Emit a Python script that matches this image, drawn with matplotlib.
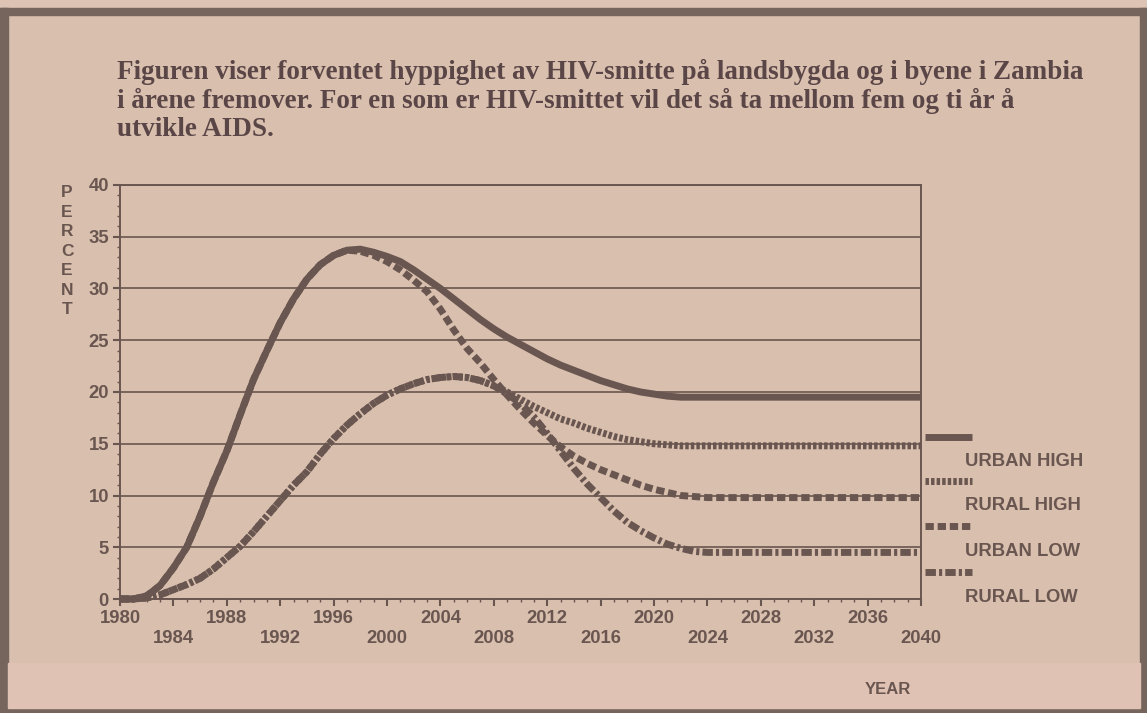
import matplotlib.pyplot as plt
from matplotlib.patches import Rectangle
from matplotlib.lines import Line2D
from matplotlib.ticker import MultipleLocator

# colours of the scanned newspaper page
paper = '#d9bfad'
band = '#dfc2b3'
frame = '#76655d'
ink = '#6a5650'
title_ink = '#5a4547'

# data (percent HIV prevalence, Zambia)
years = list(range(1980, 2025)) + [2040]

urban_high = [0.0, 0.0, 0.3, 1.3, 3.0, 5.0, 8.0, 11.3, 14.3, 17.8,
              21.2, 24.0, 26.7, 29.0, 30.9, 32.3, 33.2, 33.7, 33.8, 33.5,
              33.1, 32.6, 31.8, 30.9, 30.0, 29.0, 28.0, 27.0, 26.1, 25.3,
              24.6, 23.9, 23.2, 22.6, 22.1, 21.6, 21.1, 20.7, 20.3, 20.0,
              19.8, 19.6, 19.5, 19.5, 19.5, 19.5]

urban_low = [0.0, 0.0, 0.3, 1.3, 3.0, 5.0, 8.0, 11.3, 14.3, 17.8,
             21.2, 24.0, 26.7, 29.0, 30.9, 32.3, 33.2, 33.7, 33.6, 33.2,
             32.6, 31.8, 30.8, 29.7, 28.0, 26.0, 24.2, 22.8, 21.2, 19.7,
             18.3, 17.0, 15.8, 14.7, 13.8, 13.1, 12.5, 12.0, 11.5, 11.0,
             10.6, 10.3, 10.0, 9.9, 9.8, 9.8]

rural_high = [0.0, 0.0, 0.1, 0.4, 0.9, 1.4, 2.0, 2.9, 4.0, 5.1,
              6.5, 8.0, 9.5, 11.0, 12.3, 14.0, 15.5, 16.8, 17.9, 18.9,
              19.7, 20.3, 20.8, 21.2, 21.4, 21.5, 21.4, 21.1, 20.6, 20.0,
              19.3, 18.6, 18.0, 17.4, 17.0, 16.5, 16.1, 15.7, 15.4, 15.2,
              15.0, 14.9, 14.8, 14.8, 14.8, 14.8]

rural_low = [0.0, 0.0, 0.1, 0.4, 0.9, 1.4, 2.0, 2.9, 4.0, 5.1,
             6.5, 8.0, 9.5, 11.0, 12.3, 14.0, 15.5, 16.8, 17.9, 18.9,
             19.7, 20.3, 20.8, 21.2, 21.4, 21.5, 21.4, 21.1, 20.6, 19.8,
             18.9, 17.6, 16.0, 14.3, 12.6, 11.1, 9.8, 8.5, 7.4, 6.6,
             5.9, 5.3, 4.9, 4.6, 4.5, 4.5]

series_names = ['URBAN HIGH', 'RURAL HIGH', 'URBAN LOW', 'RURAL LOW']
x_ticks = list(range(1980, 2041, 4))
y_ticks = [0, 5, 10, 15, 20, 25, 30, 35, 40]

title = ('Figuren viser forventet hyppighet av HIV-smitte på landsbygda og i byene i Zambia\n'
         'i årene fremover. For en som er HIV-smittet vil det så ta mellom fem og ti år å\n'
         'utvikle AIDS.')

W, H = 1147, 713
fig = plt.figure(figsize=(W / 100, H / 100), dpi=100)
fig.patch.set_facecolor(paper)


def px_rect(x0, y0, x1, y1, color):
    # rectangle given in pixel coords (origin top-left)
    fig.patches.append(Rectangle((x0 / W, 1 - y1 / H), (x1 - x0) / W, (y1 - y0) / H,
                                 transform=fig.transFigure, color=color, zorder=0))


# page frame and bottom strip
px_rect(0, 0, W, 8, '#dcc3b4')
px_rect(0, 8, W, 15, frame)
px_rect(0, 8, 8, H, frame)
px_rect(1140, 8, W, H, frame)
px_rect(0, 708, W, H, frame)
px_rect(8, 663, 1140, 708, band)

fig.text(117 / W, 1 - 59 / H, title, ha='left', va='top', fontsize=19.5,
         fontweight='bold', family='Liberation Serif', color=title_ink, linespacing=1.16)

ax = fig.add_axes([120 / W, 1 - 599 / H, 801 / W, 414 / H])
ax.set_facecolor('none')
ax.set_xlim(1980, 2040)
ax.set_ylim(0, 40)

styles = [
    dict(data=urban_high, ls='-'),
    dict(data=rural_high, ls=(0, (0.5, 0.3))),
    dict(data=urban_low, ls=(0, (1.2, 0.55))),
    dict(data=rural_low, ls=(0, (1.5, 0.45, 0.45, 0.45))),
]
for s in reversed(styles):
    ax.plot(years, s['data'], color=ink, linewidth=5, linestyle=s['ls'],
            clip_on=False, solid_capstyle='butt', dash_capstyle='butt', zorder=3)

ax.yaxis.grid(True, color=ink, linewidth=1.2)
ax.set_axisbelow(True)
for sp in ax.spines.values():
    sp.set_color(ink)
    sp.set_linewidth(1.4)

ax.set_yticks(y_ticks)
ax.yaxis.set_minor_locator(MultipleLocator(1))
ax.set_xticks(x_ticks)
ax.set_xticklabels([str(y) if i % 2 == 0 else '\n' + str(y) for i, y in enumerate(x_ticks)])
ax.xaxis.set_minor_locator(MultipleLocator(1))
ax.tick_params(which='major', length=5, width=1.5, color=ink, labelcolor=ink,
               labelsize=13.3, pad=3)
ax.tick_params(which='minor', length=2.5, width=1, color=ink)
ax.tick_params(axis='x', pad=3)
for lab in ax.get_xticklabels() + ax.get_yticklabels():
    lab.set_fontweight('bold')
    lab.set_family('Liberation Sans')
for lab in ax.get_xticklabels():
    lab.set_linespacing(1.25)

# stacked y label
fig.text(67 / W, 1 - 185 / H, '\n'.join('PERCENT'), ha='center', va='top', fontsize=12.5,
         fontweight='bold', family='Liberation Sans', color=ink, linespacing=1.38)

fig.text(888 / W, 1 - 690 / H, 'YEAR', ha='center', va='center', fontsize=12,
         fontweight='bold', family='Liberation Sans', color=ink)

# legend drawn to the right of the plot
leg_y = [437, 481, 526, 572]
for s, name, y in zip(styles, series_names, leg_y):
    fig.lines.append(Line2D([925 / W, 972 / W], [1 - y / H, 1 - y / H], transform=fig.transFigure,
                            color=ink, linewidth=5, linestyle=s['ls'],
                            solid_capstyle='butt', dash_capstyle='butt'))
    fig.text(965 / W, 1 - (y + 25) / H, name, ha='left', va='center', fontsize=13.3,
             fontweight='bold', family='Liberation Sans', color=ink)

fig.savefig('out.png', dpi=100, facecolor=fig.get_facecolor())
